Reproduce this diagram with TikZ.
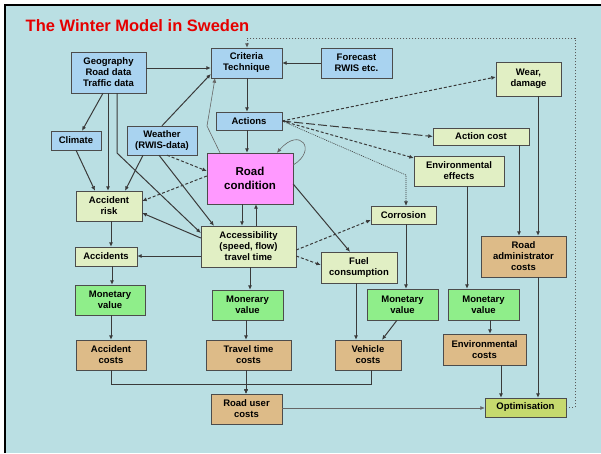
\documentclass[tikz,border=0pt]{standalone}
\usepackage{fontspec}
\setmainfont{Liberation Sans}
\usepackage{tikz}
\usetikzlibrary{arrows.meta}
\definecolor{bg}{HTML}{BADFE3}
\definecolor{skyblue}{HTML}{A9D3F0}
\definecolor{pale}{HTML}{E1EFC4}
\definecolor{mint}{HTML}{8FEE8A}
\definecolor{tan}{HTML}{DDBB88}
\definecolor{olive}{HTML}{C6D96E}
\definecolor{rose}{HTML}{FF99FF}
\definecolor{wire}{HTML}{3A3A3A}

\begin{document}
\begin{tikzpicture}[x=1pt,y=-1pt]
    \useasboundingbox (0,0) rectangle (601,453);
    \fill[bg] (5,5) rectangle (601,453);
    \draw[line width=2pt] (5,453) -- (5,5) -- (601,5);

    \tikzstyle{box}=[draw=gray!60!black,line width=0.4pt,inner sep=0pt,align=center,font=\bfseries\fontsize{9.5}{11}\selectfont]
    \tikzstyle{input}=[box,fill=skyblue]
    \tikzstyle{effect}=[box,fill=pale]
    \tikzstyle{money}=[box,fill=mint]
    \tikzstyle{cost}=[box,fill=tan]

    \node[text=red!90!black,font=\bfseries\fontsize{16.5}{19}\selectfont] (title) at (137.5,26) {The Winter Model in Sweden};

    \node[input,minimum width=75,minimum height=41] (geo) at (108.5,72.5) {Geography\\Road data\\Traffic data};
    \node[input,minimum width=71,minimum height=30] (crit) at (246.5,63) {Criteria\\Technique};
    \node[input,minimum width=71,minimum height=30] (fcast) at (356.5,63) {Forecast\\RWIS etc.};
    \node[input,minimum width=66,minimum height=18] (actions) at (249,121) {Actions};
    \node[input,minimum width=50,minimum height=19] (climate) at (76,140.5) {Climate};
    \node[input,minimum width=70,minimum height=29] (weather) at (162,140.5) {Weather\\(RWIS-data)};
    \node[box,fill=rose,minimum width=86,minimum height=51,font=\bfseries\fontsize{11.5}{13.5}\selectfont] (road) at (250,178.5) {Road\\condition};

    \node[effect,minimum width=65,minimum height=34] (wear) at (528.5,79) {Wear,\\damage};
    \node[effect,minimum width=96,minimum height=17] (actcost) at (481,136.5) {Action cost};
    \node[effect,minimum width=90,minimum height=30] (enveff) at (459,171) {Environmental\\effects};
    \node[effect,minimum width=65,minimum height=18] (corr) at (403.5,215) {Corrosion};
    \node[effect,minimum width=66,minimum height=30] (risk) at (109,206) {Accident\\risk};
    \node[effect,minimum width=62,minimum height=19] (accidents) at (106,256.5) {Accidents};
    \node[effect,minimum width=95,minimum height=41] (access) at (248.5,246.5) {Accessibility\\(speed, flow)\\travel time};
    \node[effect,minimum width=76,minimum height=31] (fuel) at (359,267.5) {Fuel\\consumption};

    \node[money,minimum width=70,minimum height=30] (mon1) at (110,300) {Monetary\\value};
    \node[money,minimum width=71,minimum height=30] (mon2) at (247.5,305) {Monerary\\value};
    \node[money,minimum width=71,minimum height=31] (mon3) at (402.5,304.5) {Monetary\\value};
    \node[money,minimum width=71,minimum height=31] (mon4) at (483.5,304.5) {Monetary\\value};

    \node[cost,minimum width=85,minimum height=41] (admin) at (523.5,256.5) {Road\\administrator\\costs};
    \node[cost,minimum width=70,minimum height=30] (acccost) at (111,355) {Accident\\costs};
    \node[cost,minimum width=85,minimum height=30] (ttcost) at (248.5,355) {Travel time\\costs};
    \node[cost,minimum width=66,minimum height=30] (vehcost) at (368,355) {Vehicle\\costs};
    \node[cost,minimum width=83,minimum height=31] (envcost) at (484.5,349.5) {Environmental\\costs};
    \node[cost,minimum width=71,minimum height=30] (ruc) at (246.5,409) {Road user\\costs};
    \node[box,fill=olive,minimum width=81,minimum height=19] (optim) at (525.5,407.5) {Optimisation};

    \tikzstyle{fwd}=[draw=wire,line width=1pt,-{Latex[length=4.5pt,width=4pt]}]
    \tikzstyle{shortdash}=[dash pattern=on 3pt off 2pt]
    \tikzstyle{longdash}=[dash pattern=on 9pt off 3pt]

    % inputs
    \draw[fwd] (geo.east |- 0,68) -- (crit.west |- 0,68);
    \draw[fwd] (fcast.west) -- (crit.east |- fcast.west);
    \draw[fwd] (geo.south -| 103,0) -- (climate.north -| 82,0);
    \draw[fwd] (geo.south -| 108,0) -- (risk.north -| 108,0);
    \draw[fwd] (geo.south -| 117,0) -- (117,153) -- (access.west |- 0,233);
    \draw[fwd] (climate.south) -- (risk.north -| 95,0);
    \draw[fwd] (weather.south -| 143,0) -- (risk.north -| 125,0);
    \draw[fwd] (weather.north) -- (crit.west |- 0,74);
    \draw[fwd,shortdash] (weather.south -| 167,0) -- (road.west |- 0,171);
    \draw[fwd] (weather.south -| 159,0) -- (access.north -| 214,0);

    % road condition and accessibility
    \draw[fwd,shortdash] (road.west |- 0,176) -- (risk.east |- 0,201);
    \draw[fwd] (access.west |- 0,238) -- (risk.east |- 0,213);
    \draw[fwd] (access.west |- 0,256) -- (accidents.east |- 0,256);
    \draw[fwd] (road.south -| 242,0) -- (access.north -| 242,0);
    \draw[fwd] (access.north -| 256,0) -- (road.south -| 256,0);
    \draw[fwd,line width=0.6pt,draw=gray!80!black] (road.north -| 220,0) -- (207,126) -- (crit.south -| 215,0);
    \draw[fwd,line width=0.6pt,draw=gray!80!black] (road.east |- 0,165) .. controls (318,150) and (300,126) .. (road.north -| 277,0);
    \draw[fwd] (crit.south -| 247,0) -- (actions.north -| 247,0);
    \draw[fwd] (actions.south -| 247,0) -- (road.north -| 247,0);
    \draw[fwd] (road.east |- 0,184) -- (fuel.north -| 350,0);
    \draw[fwd,shortdash] (access.east |- 0,250) -- (corr.west |- 0,220);
    \draw[fwd,shortdash] (access.east |- 0,256) -- (fuel.west |- 0,265);

    % actions
    \draw[fwd,shortdash] (actions.east) -- (wear.west |- 0,77);
    \draw[fwd,longdash] (actions.east) -- (actcost.west);
    \draw[fwd,shortdash] (actions.east) -- (enveff.west |- 0,158);
    \draw[fwd,densely dotted,line width=0.6pt] (actions.east) -- (406,175) -- (corr.north -| 406,0);

    % costs
    \draw[fwd] (risk.south -| 111,0) -- (accidents.north -| 111,0);
    \draw[fwd] (accidents.south -| 112,0) -- (mon1.north -| 112,0);
    \draw[fwd] (mon1.south -| 111,0) -- (acccost.north -| 111,0);
    \draw[fwd] (access.south -| 250,0) -- (mon2.north -| 250,0);
    \draw[fwd] (mon2.south -| 246,0) -- (ttcost.north -| 246,0);
    \draw[fwd] (ttcost.south -| 246,0) -- (ruc.north -| 246,0);
    \draw[fwd] (acccost.south) |- (246,384) -- (ruc.north -| 246,0);
    \draw[fwd] (vehcost.south -| 371,0) |- (246,384) -- (ruc.north -| 246,0);
    \draw[fwd] (fuel.south -| 356,0) -- (vehcost.north -| 356,0);
    \draw[fwd] (corr.south -| 406,0) -- (mon3.north -| 406,0);
    \draw[fwd] (mon3.south -| 397,0) -- (vehcost.north -| 382,0);
    \draw[fwd] (enveff.south -| 467,0) -- (mon4.north -| 467,0);
    \draw[fwd] (mon4.south -| 490,0) -- (envcost.north -| 490,0);
    \draw[fwd] (envcost.south -| 501,0) -- (optim.north -| 501,0);
    \draw[fwd] (actcost.south -| 519,0) -- (admin.north -| 519,0);
    \draw[fwd] (wear.south -| 538,0) -- (admin.north -| 538,0);
    \draw[fwd] (admin.south -| 538,0) -- (optim.north -| 538,0);
    \draw[fwd,line width=0.6pt,draw=gray!80!black] (ruc.east |- 0,408) -- (optim.west |- 0,408);

    % feedback
    \draw[fwd,dotted,line width=1pt,draw=gray!70!black] (optim.east) -- (575,407.5) -- (575,38) -- (247,38) -- (crit.north -| 247,0);
\end{tikzpicture}
\end{document}
